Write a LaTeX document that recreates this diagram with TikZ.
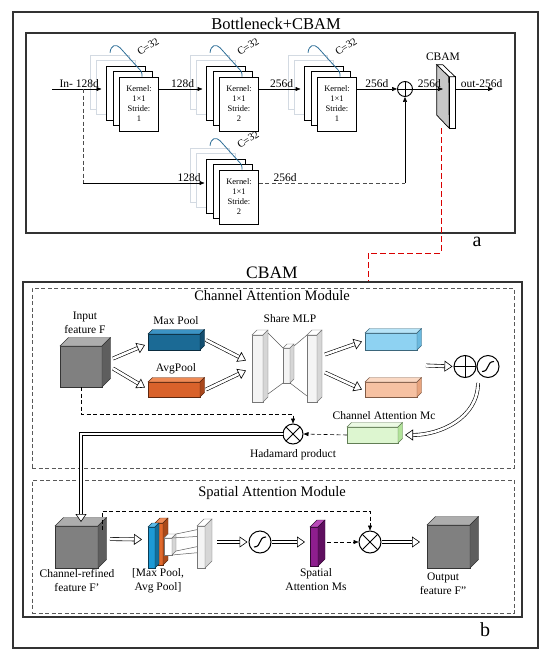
\documentclass[tikz,border=0pt]{standalone}
\usepackage{fontspec}
\setmainfont{Liberation Serif}
\usetikzlibrary{
    arrows.meta,
    calc,
    positioning
}
\definecolor{faint}{HTML}{D3DAE2}
\definecolor{cbrace}{HTML}{2F6F98}
\definecolor{cubefront}{HTML}{808080}
\definecolor{cubetop}{HTML}{ADADAD}
\definecolor{cubeside}{HTML}{5E5E5E}
\definecolor{mpfront}{HTML}{1B6A95}
\definecolor{mptop}{HTML}{3C93C4}
\definecolor{mpside}{HTML}{134E70}
\definecolor{apfront}{HTML}{D9622B}
\definecolor{aptop}{HTML}{EE8A55}
\definecolor{apside}{HTML}{A9471B}
\definecolor{lbfront}{HTML}{8ED2F2}
\definecolor{lbtop}{HTML}{B7E4F8}
\definecolor{lbside}{HTML}{6BB9DF}
\definecolor{lofront}{HTML}{F6C1A2}
\definecolor{lotop}{HTML}{FAD8C3}
\definecolor{loside}{HTML}{E8A47E}
\definecolor{mcfront}{HTML}{DDF6D0}
\definecolor{mctop}{HTML}{ECFAE4}
\definecolor{mcside}{HTML}{B2E39A}
\definecolor{msfront}{HTML}{8E1E8E}
\definecolor{mstop}{HTML}{B84AB8}
\definecolor{msside}{HTML}{5F0F5F}
\definecolor{spblue}{HTML}{1C9AD6}
\definecolor{spbluetop}{HTML}{5BBAE8}
\definecolor{spblueside}{HTML}{136E9A}
\definecolor{sporange}{HTML}{E2692B}
\definecolor{sporangetop}{HTML}{F08E5A}
\definecolor{sporangeside}{HTML}{A94A1A}
\definecolor{slab}{HTML}{F4F4F4}
\definecolor{slabtop}{HTML}{FFFFFF}
\definecolor{slabside}{HTML}{D6D6D6}
\tikzset{
    frame/.style={draw=black!80, line width=1.1pt, inner sep=0pt},
    modbox/.style={draw=black!65, dash pattern=on 4pt off 2.5pt, line width=0.8pt, inner sep=0pt},
    card/.style={draw=black, fill=white, line width=0.6pt, minimum width=39pt, minimum height=54pt,
        inner sep=0pt, align=center, font=\fontsize{8.5}{10}\selectfont},
    backcard/.style={draw=black, fill=white, line width=0.6pt},
    faintcard/.style={draw=faint, fill=white, line width=0.6pt},
    cline/.style={draw=cbrace, line width=0.8pt},
    lbl/.style={font=\fontsize{11.5}{14}\selectfont, align=center},
    flow/.style={-{Triangle[length=5pt, width=4pt]}, line width=0.6pt},
    skipline/.style={dash pattern=on 4pt off 2.5pt, line width=0.6pt, draw=black!70},
    dashflow/.style={-{Triangle[length=5pt, width=4pt]}, dash pattern=on 4pt off 2.5pt, line width=0.6pt},
    hollow/.style={double, double distance=2.6pt, line width=0.6pt,
        -{Triangle[fill=white, length=8pt, width=11pt, line width=0.6pt]}},
    redlink/.style={draw=red!85!black, dash pattern=on 6pt off 3pt, line width=1pt},
    linegray/.style={draw=black!65, line width=0.5pt},
    opnode/.style={circle, draw, fill=white, inner sep=0pt, line width=1pt},
    plusnode/.style={opnode, minimum size=#1, path picture={
        \draw (path picture bounding box.north) -- (path picture bounding box.south)
              (path picture bounding box.west) -- (path picture bounding box.east);}},
    timesnode/.style={opnode, minimum size=#1, path picture={
        \draw (path picture bounding box.north west) -- (path picture bounding box.south east)
              (path picture bounding box.north east) -- (path picture bounding box.south west);}},
    sigmnode/.style={opnode, minimum size=#1, path picture={
        \draw[line width=1.1pt] ([shift={(-6pt,-5pt)}]path picture bounding box.center)
            .. controls +(8pt,0pt) and +(-8pt,0pt) .. ([shift={(6pt,5pt)}]path picture bounding box.center);}}
}
% name, front centre, width, height, depth, front/top/side colours
\newcommand{\blockprism}[8]{%
    \node[inner sep=0pt, outer sep=0pt, draw=#8!55!black, line width=0.4pt, fill=#6,
        minimum width=#3pt, minimum height=#4pt] (#1) at (#2) {};
    \filldraw[draw=#8!55!black, line width=0.4pt, fill=#7] (#1.north west) -- ++(#5pt,#5pt)
        -- ([shift={(#5pt,#5pt)}]#1.north east) -- (#1.north east) -- cycle;
    \filldraw[draw=#8!55!black, line width=0.4pt, fill=#8] (#1.south east) -- (#1.north east)
        -- ([shift={(#5pt,#5pt)}]#1.north east) -- ([shift={(#5pt,#5pt)}]#1.south east) -- cycle;
}

\begin{document}
\begin{tikzpicture}[x=1pt, y=-1pt]
    \useasboundingbox (0,0) rectangle (550,659);
    \node[frame, minimum width=525pt, minimum height=636pt] (outer) at (275.5,330) {};
    \node[frame, minimum width=489pt, minimum height=200pt] (boxa) at (270.5,133) {};
    \node[frame, minimum width=499pt, minimum height=335pt] (boxb) at (272.5,449.5) {};
    \node[modbox, minimum width=482pt, minimum height=180pt] (cam) at (273,378) {};
    \node[modbox, minimum width=482pt, minimum height=133pt] (sam) at (273,546.5) {};
    \node[font=\fontsize{16.5}{18}\selectfont] (ttla) at (276,24) {Bottleneck+CBAM};
    \node[font=\fontsize{20}{22}\selectfont] (tga) at (477,242) {a};
    \node[font=\fontsize{17.5}{19}\selectfont] (ttlb) at (272,273) {CBAM};
    \node[font=\fontsize{20}{22}\selectfont] (tgb) at (485,630) {b};
    \node[font=\fontsize{14.5}{16}\selectfont] (tcam) at (272,296) {Channel Attention Module};
    \node[font=\fontsize{14.5}{16}\selectfont] (tsam) at (272,493) {Spatial Attention Module};

    \foreach \nm/\cx/\cy/\sv in {k1/139/104/1, k2/239/104/2, k3/337/104/1, k4/239/197/2}{
        \filldraw[faintcard] (\cx-48.5,\cy-49) rectangle ++(39,54);
        \filldraw[faintcard] (\cx-42.5,\cy-44) rectangle ++(39,54);
        \filldraw[backcard] (\cx-32.5,\cy-38) rectangle ++(39,54);
        \filldraw[backcard] (\cx-26,\cy-32.5) rectangle ++(39,54);
        \coordinate (\nm c) at (\cx-32.5,\cy-11);
        \node[card] (\nm) at (\cx,\cy) {Kernel:\\1×1\\Stride:\\\sv};
        \draw[cline] ($(\nm.north)+(-29,-24)$) .. controls +(1,-8) and +(-4,-4) .. ($(\nm.north)+(-19,-29)$)
            -- ($(\nm.north)+(-1,-9)$) .. controls +(4,4) and +(0,-4) .. ($(\nm.north)+(3,0)$);
        \node[font=\fontsize{10.5}{12}\selectfont, rotate=33, inner sep=1pt] (\nm t) at ($(\nm.north)+(9,-30)$) {C=32};
    }

    \node[plusnode=15pt, line width=0.9pt] (add) at (405,89) {};
    \node[inner sep=0pt, minimum width=18pt, minimum height=63pt] (cbam) at (446,96.5) {};
    \filldraw[fill=black!22, draw=black, line width=0.7pt] (cbam.north west) -- ++(12pt,-12pt)
        -- ([xshift=-6pt]cbam.south east) -- ([yshift=13pt]cbam.south west) -- cycle;
    \filldraw[fill=white, draw=black, line width=0.7pt] ([shift={(-6pt,-12pt)}]cbam.north east)
        -- ([yshift=-12pt]cbam.north east) -- (cbam.south east) -- ([xshift=-6pt]cbam.south east) -- cycle;
    \filldraw[fill=white, draw=black, line width=0.7pt] (cbam.north west) -- ([xshift=6pt]cbam.north west)
        -- ([yshift=-12pt]cbam.north east) -- ([shift={(-6pt,-12pt)}]cbam.north east) -- cycle;
    \node[lbl] (tcb) at (443,57) {CBAM};

    \coordinate (in) at (52,89);
    \coordinate (row) at (0,89);
    \coordinate (lowrow) at (0,183);
    \coordinate (split) at (83,89);
    \coordinate (out) at (493,89);
    \coordinate (lnk) at (368,253);
    \draw[flow, shorten >=5pt] (in) -- (k1c |- row) node[lbl, midway, above, inner sep=1pt] {In- 128d};
    \draw[flow, shorten >=4pt] (k1.east |- row) -- (k2c |- row) node[lbl, midway, above, inner sep=1pt] {128d};
    \draw[flow, shorten >=4pt] (k2.east |- row) -- (k3c |- row) node[lbl, midway, above, inner sep=1pt] {256d};
    \draw[flow] (k3.east |- row) -- (add.west) node[lbl, midway, above, inner sep=1pt] {256d};
    \draw[flow, shorten >=3pt] (add.east) -- (cbam.center |- row) node[lbl, midway, above, inner sep=1pt] {256d};
    \draw[flow] (cbam.east |- row) -- (out) node[lbl, pos=0.7, above, inner sep=1pt] {out-256d};
    \draw[skipline] (split) -- (split |- lowrow);
    \draw[flow, shorten >=2pt] (split |- lowrow) -- (k4c |- lowrow) node[lbl, pos=0.86, above, inner sep=1pt] {128d};
    \draw[skipline] (k4.east |- lowrow) -- (add |- lowrow) node[lbl, pos=0.18, above, inner sep=1pt] {256d};
    \draw[flow] (add |- lowrow) -- (add.south);
    \draw[redlink] ([xshift=-5pt]cbam.south) |- (lnk) -- (lnk |- boxb.north);

    \blockprism{F}{81,366.5}{42}{41}{8.5}{cubefront}{cubetop}{cubeside}
    \blockprism{mp}{174,342}{52}{16}{4.5}{mpfront}{mptop}{mpside}
    \blockprism{ap}{174,389.5}{52}{15}{4.5}{apfront}{aptop}{apside}
    \blockprism{ml}{257.5,368.5}{11}{67}{5}{slab}{slabtop}{slabside}
    \blockprism{mm}{286.5,365.5}{7}{35}{4}{slab}{slabtop}{slabside}
    \blockprism{mr}{312,368.5}{10}{67}{5}{slab}{slabtop}{slabside}
    \draw[linegray] ([shift={(5pt,2pt)}]ml.north east) -- (mm.north west);
    \draw[linegray] ([shift={(5pt,8pt)}]ml.south east) -- (mm.south west);
    \draw[linegray] ([shift={(4pt,2pt)}]mm.north east) -- (mr.north west);
    \draw[linegray] (mm.south east) -- ([yshift=6pt]mr.south west);
    \blockprism{lb}{391,341.5}{52}{17}{4.5}{lbfront}{lbtop}{lbside}
    \blockprism{lo}{391,389.5}{52}{15}{4.5}{lofront}{lotop}{loside}
    \blockprism{mc}{372.5,435}{51}{16}{4.5}{mcfront}{mctop}{mcside}
    \node[plusnode=22pt] (add2) at (465,366.5) {};
    \node[sigmnode=22pt] (sig1) at (488,366.5) {};
    \node[timesnode=20pt] (had) at (293,434) {};

    \node[lbl] (tF) at (85,323) {Input\\feature F};
    \node[lbl] (tmp) at (176,321) {Max Pool};
    \node[lbl] (tap) at (176,369) {AvgPool};
    \node[lbl] (tmlp) at (290,319) {Share MLP};
    \node[lbl] (tmc) at (384,416) {Channel Attention Mc};
    \node[lbl] (thad) at (293,455) {Hadamard product};

    \draw[hollow] ([xshift=11pt,yshift=8pt]F.east) -- ([xshift=-3pt,yshift=-3pt]mp.west);
    \draw[hollow] ([xshift=11pt,yshift=-2pt]F.east) -- ([xshift=-3pt,yshift=2pt]ap.west);
    \draw[hollow] ([xshift=6pt,yshift=2pt]mp.east) -- ([xshift=-6pt,yshift=8pt]ml.west);
    \draw[hollow] ([xshift=6pt]ap.east) -- ([xshift=-6pt,yshift=-2pt]ml.west);
    \draw[hollow] ([xshift=8pt,yshift=14pt]mr.east) -- ([xshift=-3pt]lb.west);
    \draw[hollow] ([xshift=8pt,yshift=-4pt]mr.east) -- ([xshift=-3pt]lo.west);
    \draw[hollow, shorten >=1pt] ($(lb.east)!0.5!(lo.east)+(9,0)$) -- (add2.west);
    \draw[hollow] ([xshift=-10pt,yshift=-5pt]sig1.south) to[out=-90, in=0] ([xshift=7pt]mc.east);
    \draw[dashflow] (mc.west) -- (had.east);
    \draw[dashflow] (F.south) -- ++(0,27) -| (had.north);

    \blockprism{F2}{76.5,547}{43}{42}{8.5}{cubefront}{cubetop}{cubeside}
    \blockprism{po}{159,544}{8}{42}{5}{sporange}{sporangetop}{sporangeside}
    \blockprism{pb}{151.5,547.5}{7}{41}{4}{spblue}{spbluetop}{spblueside}
    \blockprism{pk}{168,546.5}{8}{17}{4}{white}{white}{slabside}
    \draw[linegray] ([shift={(4pt,4pt)}]pk.north east) -- (205,528);
    \draw[linegray] (pk.north east) -- (205,536);
    \draw[linegray] (pk.south east) -- (205,552);
    \draw[linegray] ([shift={(4pt,4pt)}]pk.south east) -- (205,545);
    \blockprism{ws}{201,547}{8}{42}{7}{slab}{slabtop}{slabside}
    \node[sigmnode=22pt] (sig2) at (260,542) {};
    \blockprism{ms}{314,546.5}{8}{39}{7}{msfront}{mstop}{msside}
    \node[timesnode=22pt] (had2) at (370,542) {};
    \blockprism{Fo}{448.5,546.5}{43}{43}{8.5}{cubefront}{cubetop}{cubeside}

    \node[lbl] (tF2) at (77,581) {Channel-refined\\feature F\symbol{39}};
    \node[lbl] (tpool) at (158,581) {[Max Pool,\\Avg Pool]};
    \node[lbl] (tms) at (316,580) {Spatial\\Attention Ms};
    \node[lbl] (tFo) at (443,584) {Output\\feature F\symbol{34}};

    \draw[hollow] (had.west) -| ([xshift=4.5pt,yshift=4pt]F2.north);
    \draw[hollow] ([xshift=12pt,yshift=8pt]F2.east) -- ([xshift=-6pt,yshift=8pt]pb.west);
    \draw[hollow, shorten >=1pt] ([xshift=12pt,yshift=5pt]ws.east) -- (sig2.west);
    \draw[hollow] (sig2.east) -- ([xshift=-5pt,yshift=4.5pt]ms.west);
    \draw[dashflow] ([xshift=9pt,yshift=4.5pt]ms.east) -- (had2.west);
    \draw[hollow] (had2.east) -- ([xshift=-7pt,yshift=4.5pt]Fo.west);
    \draw[dashflow] ([xshift=4pt,yshift=-4pt]F2.north east) -- ++(0,-19) -| (had2.north);
\end{tikzpicture}
\end{document}
